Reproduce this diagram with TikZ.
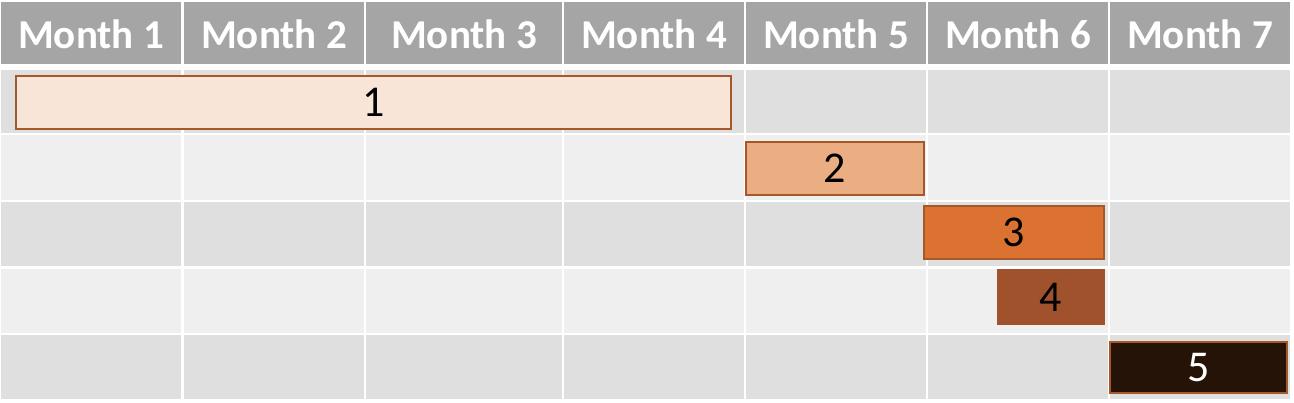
\documentclass[tikz,border=0pt]{standalone}
\usepackage{fontspec}
\setmainfont{Carlito}

\definecolor{headgray}{HTML}{A5A5A5}
\definecolor{rowdark}{HTML}{DFDFDF}
\definecolor{rowlight}{HTML}{EFEFEF}
\definecolor{barline}{HTML}{A5582A}
\definecolor{phaseA}{HTML}{F8E5D8}
\definecolor{phaseB}{HTML}{EBAD82}
\definecolor{phaseC}{HTML}{DC7232}
\definecolor{phaseD}{HTML}{A0522D}
\definecolor{phaseE}{HTML}{261307}

\tikzset{
  headtext/.style={text=white, font=\fontsize{20.5}{24}\selectfont\bfseries},
  phase/.style={draw=barline, line width=1pt, inner sep=0pt, outer sep=0pt,
    font=\fontsize{22}{26}\selectfont}
}

\begin{document}
\begin{tikzpicture}[x=0.5pt,y=-0.5pt]
\useasboundingbox (0,0) rectangle (1294,402);
\fill[white] (0,0) rectangle (1294,402);

% month columns, header and grid rows
\foreach \l/\r/\n in {1/181/1,184/364/2,366/562/3,564/744/4,746/926/5,928/1108/6,1110/1290/7}{
  \fill[headgray] (\l,2) rectangle (\r,64);
  \node[headtext] (month\n) at ({(\l+\r)/2},34) {Month \n};
  \foreach \t/\b/\c in {70/133/rowdark,135/200/rowlight,202/266/rowdark,269/333/rowlight,335/399/rowdark}
    \fill[\c] (\l,\t) rectangle (\r,\b);
}

% phases
\node[phase, fill=phaseA, minimum width=357.5pt, minimum height=26.5pt] (phase1) at (373.5,102.5) {1};
\node[phase, fill=phaseB, minimum width=89pt, minimum height=26.5pt] (phase2) at (835,168.5) {2};
\node[phase, fill=phaseC, minimum width=90pt, minimum height=26.5pt] (phase3) at (1014,232.5) {3};
\node[phase, fill=phaseD, draw=phaseD, minimum width=53pt, minimum height=27pt] (phase4) at (1051,297) {4};
\node[phase, fill=phaseE, text=white, minimum width=88.5pt, minimum height=25.5pt] (phase5) at (1198.5,367.5) {5};

\end{tikzpicture}
\end{document}
